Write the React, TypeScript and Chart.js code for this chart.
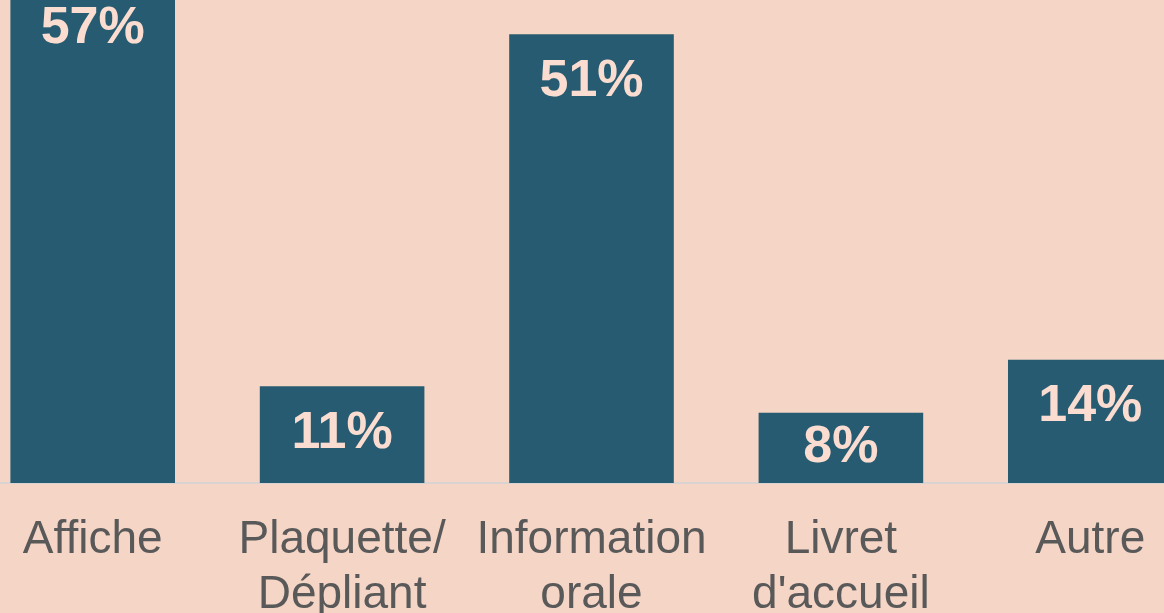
import React, { useEffect, useRef } from "react";
import { Chart, registerables } from "chart.js";

Chart.register(...registerables);

const categories: (string | string[])[] = [
  "Affiche",
  ["Plaquette/", "Dépliant"],
  ["Information", "orale"],
  ["Livret", "d'accueil"],
  "Autre",
];
const values: number[] = [57, 11, 51, 8, 14];
const valueLabels: string[] = ["57%", "11%", "51%", "8%", "14%"];

const BG = "#F5D5C6";
const BAR = "#265B71";
const LABEL = "#FADDD0";
const AXIS_TEXT = "#595959";
const FONT = "'Liberation Sans', Arial, sans-serif";

const labelPlugin = {
  id: "valueLabels",
  afterDatasetsDraw(chart: any) {
    const ctx = chart.ctx;
    const meta = chart.getDatasetMeta(0);
    ctx.save();
    ctx.fillStyle = LABEL;
    ctx.font = `bold 52px ${FONT}`;
    ctx.textAlign = "center";
    ctx.textBaseline = "middle";
    meta.data.forEach((bar: any, i: number) => {
      const top = bar.y;
      const base = bar.base;
      const y = Math.min(top + 47, (top + base) / 2);
      ctx.fillText(valueLabels[i], bar.x, y);
    });
    ctx.restore();
  },
};

export default function App() {
  const ref = useRef<HTMLCanvasElement | null>(null);
  useEffect(() => {
    if (!ref.current) return;
    const chart = new Chart(ref.current, {
      type: "bar",
      data: {
        labels: categories as any,
        datasets: [
          {
            data: values,
            backgroundColor: BAR,
            borderWidth: 0,
            barPercentage: 0.66,
            categoryPercentage: 1,
          },
        ],
      },
      options: {
        animation: false,
        responsive: true,
        maintainAspectRatio: false,
        layout: { padding: { left: 8, right: 9, top: 4, bottom: 0 } },
        plugins: {
          legend: { display: false },
          tooltip: { enabled: false },
        },
        scales: {
          x: {
            grid: { display: false, drawTicks: false },
            border: { display: true, color: "#D9D4D2", width: 2 },
            ticks: {
              color: AXIS_TEXT,
              font: { family: FONT, size: 46, lineHeight: 1.2 },
              padding: 30,
              maxRotation: 0,
              autoSkip: false,
            },
            afterFit: (scale: any) => {
              scale.height = 130;
            },
          },
          y: {
            display: false,
            min: 0,
            max: 59,
          },
        },
      },
      plugins: [labelPlugin],
    });
    return () => chart.destroy();
  }, []);
  return (
    <div
      style={{
        position: "fixed",
        left: -40,
        top: -40,
        width: 1264,
        height: 653,
        background: BG,
      }}
    >
      <canvas ref={ref} />
    </div>
  );
}
